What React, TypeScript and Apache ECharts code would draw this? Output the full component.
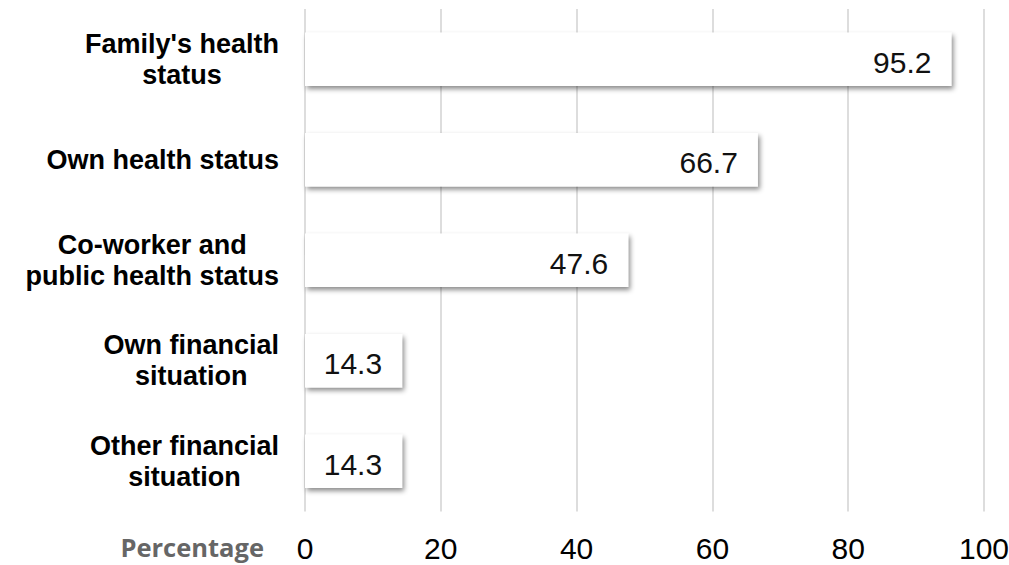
import React, { useEffect, useRef } from "react";
import * as echarts from "echarts";

const categories = [
  "Family's health\nstatus",
  "Own health status",
  "Co-worker and\npublic health status",
  "Own financial\nsituation",
  "Other financial\nsituation",
];
const values = [95.2, 66.7, 47.6, 14.3, 14.3];
const axisMin = 0;
const axisMax = 100;
const axisInterval = 20;
const axisName = "Percentage";

const FONT = "'Liberation Sans', Arial, sans-serif";

export default function App() {
  const ref = useRef<HTMLDivElement>(null);
  useEffect(() => {
    if (!ref.current) return;
    const chart = echarts.init(ref.current, undefined, { renderer: "svg" });
    chart.setOption({
      animation: false,
      backgroundColor: "#ffffff",
      grid: {
        left: 305,
        right: 25,
        top: 9,
        bottom: 53.5,
        containLabel: false,
        outerBoundsMode: "none",
      },
      xAxis: {
        type: "value",
        min: axisMin,
        max: axisMax,
        interval: axisInterval,
        axisLine: { show: false },
        axisTick: { show: false },
        splitLine: { show: true, lineStyle: { color: "#dddddd", width: 2 } },
        axisLabel: {
          margin: 22,
          fontSize: 30,
          fontFamily: FONT,
          color: "#000000",
        },
        name: axisName,
        nameLocation: "start",
        nameGap: 41,
        nameTextStyle: {
          fontFamily: "'Open Sans', sans-serif",
          fontWeight: "bold",
          fontSize: 25.5,
          color: "#666666",
          align: "right",
          verticalAlign: "top",
          lineHeight: 70,
        },
      },
      yAxis: {
        type: "category",
        data: categories,
        inverse: true,
        axisLine: { show: false },
        axisTick: { show: false },
        splitLine: { show: false },
        axisLabel: {
          margin: 26,
          align: "right",
          formatter: (v: string) =>
            v
              .split("\n")
              .map((l) => `{c|${l}}`)
              .join("\n"),
          rich: {
            c: {
              align: "center",
              fontSize: 27,
              lineHeight: 31,
              fontWeight: "bold",
              fontFamily: FONT,
              color: "#000000",
            },
          },
        },
      },
      series: [
        {
          type: "bar",
          data: values,
          barCategoryGap: "47%",
          itemStyle: {
            color: "#ffffff",
            shadowColor: "rgba(0,0,0,0.45)",
            shadowBlur: 5,
            shadowOffsetX: 2,
            shadowOffsetY: 3,
          },
          label: {
            show: true,
            position: "insideRight",
            distance: 20,
            offset: [0, 3],
            fontSize: 30,
            fontFamily: FONT,
            color: "#111111",
            formatter: (p: any) => p.value.toFixed(1),
          },
        },
      ],
    });
    return () => chart.dispose();
  }, []);
  return (
    <div
      ref={ref}
      style={{ position: "absolute", left: 0, top: 0, width: 1009, height: 565 }}
    />
  );
}
